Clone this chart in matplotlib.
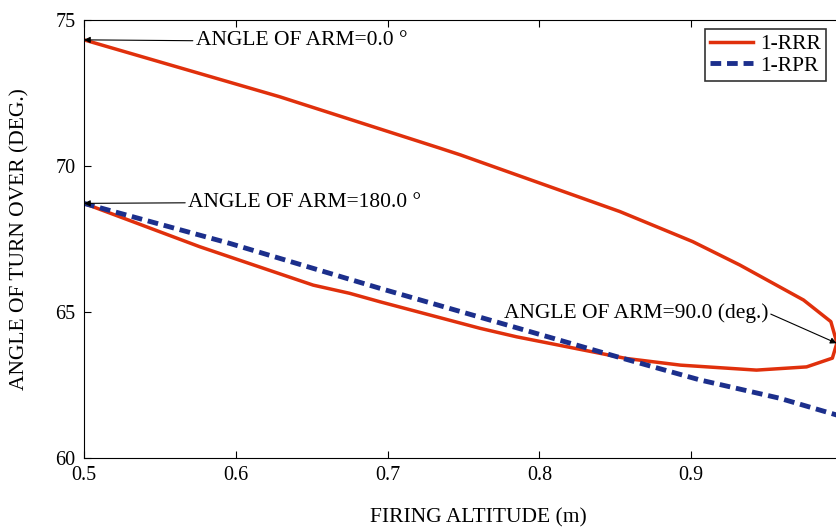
import matplotlib.pyplot as plt

# 1-RRR curve (loop: upper branch out to the right, then back along the lower branch)
rrr_x = [0.5, 0.629, 0.7345, 0.748, 0.853, 0.901, 0.932, 0.974, 0.992, 0.996,
         0.993, 0.976, 0.943, 0.893, 0.857, 0.785, 0.761, 0.695, 0.675, 0.651, 0.576, 0.5]
rrr_y = [74.32, 72.37, 70.61, 70.38, 68.44, 67.41, 66.61, 65.41, 64.67, 63.94,
         63.42, 63.12, 63.01, 63.18, 63.41, 64.15, 64.44, 65.35, 65.64, 65.92, 67.24, 68.72]

# 1-RPR curve
rpr_x = [0.5, 0.596, 0.675, 0.695, 0.763, 0.851, 0.906, 0.958, 0.996]
rpr_y = [68.72, 67.35, 66.12, 65.81, 64.79, 63.47, 62.67, 62.05, 61.47]

plt.rcParams['font.family'] = ['Liberation Serif', 'DejaVu Serif']

fig = plt.figure(figsize=(8.37, 5.27), dpi=100)
ax = fig.add_axes([84 / 837, 69 / 527, 759 / 837, 438 / 527])

ax.plot(rrr_x, rrr_y, color='#e0300c', linewidth=2.5, label='1-RRR')
ax.plot(rpr_x, rpr_y, color='#1c2f8c', linewidth=3.5, linestyle=(0, (2.2, 1.2)), label='1-RPR')

ax.set_xlim(0.5, 1.0)
ax.set_ylim(60, 75)
ax.set_xticks([0.5, 0.6, 0.7, 0.8, 0.9])
ax.set_yticks([60, 65, 70, 75])
ax.tick_params(direction='in', top=True, right=True, labelsize=14.5, length=5, pad=6)

ax.set_xlabel('FIRING ALTITUDE (m)', fontsize=15.5)
ax.set_ylabel('ANGLE OF TURN OVER (DEG.)', fontsize=15.5)
ax.xaxis.set_label_coords(0.52, -0.115)
ax.yaxis.set_label_coords(-0.072, 0.5)

def arrow(rel):
    return dict(arrowstyle='-|>', color='black', lw=0.8, mutation_scale=9,
                shrinkA=0, shrinkB=0, relpos=rel)

ax.annotate('ANGLE OF ARM=0.0 °', xy=(0.5, 74.32), xytext=(0.5735, 74.29),
            fontsize=15.5, va='center', ha='left', arrowprops=arrow((0, 0.5)))
ax.annotate('ANGLE OF ARM=180.0 °', xy=(0.5, 68.72), xytext=(0.5685, 68.74),
            fontsize=15.5, va='center', ha='left', arrowprops=arrow((0, 0.5)))
ax.annotate('ANGLE OF ARM=90.0 (deg.)', xy=(0.9958, 63.93), xytext=(0.9506, 64.97),
            fontsize=15.5, va='center', ha='right', arrowprops=arrow((1, 0.5)))

leg = ax.legend(loc='upper left', fontsize=15.5, frameon=True, fancybox=False,
                borderpad=0.25, handlelength=2.0, handletextpad=0.3, labelspacing=0.05,
                borderaxespad=0)
leg.set_bbox_to_anchor((705 / 837, 1 - 29 / 527), transform=fig.transFigure)
leg.get_frame().set_edgecolor('black')
leg.get_frame().set_linewidth(1.2)

fig.savefig('out.png', dpi=100)
